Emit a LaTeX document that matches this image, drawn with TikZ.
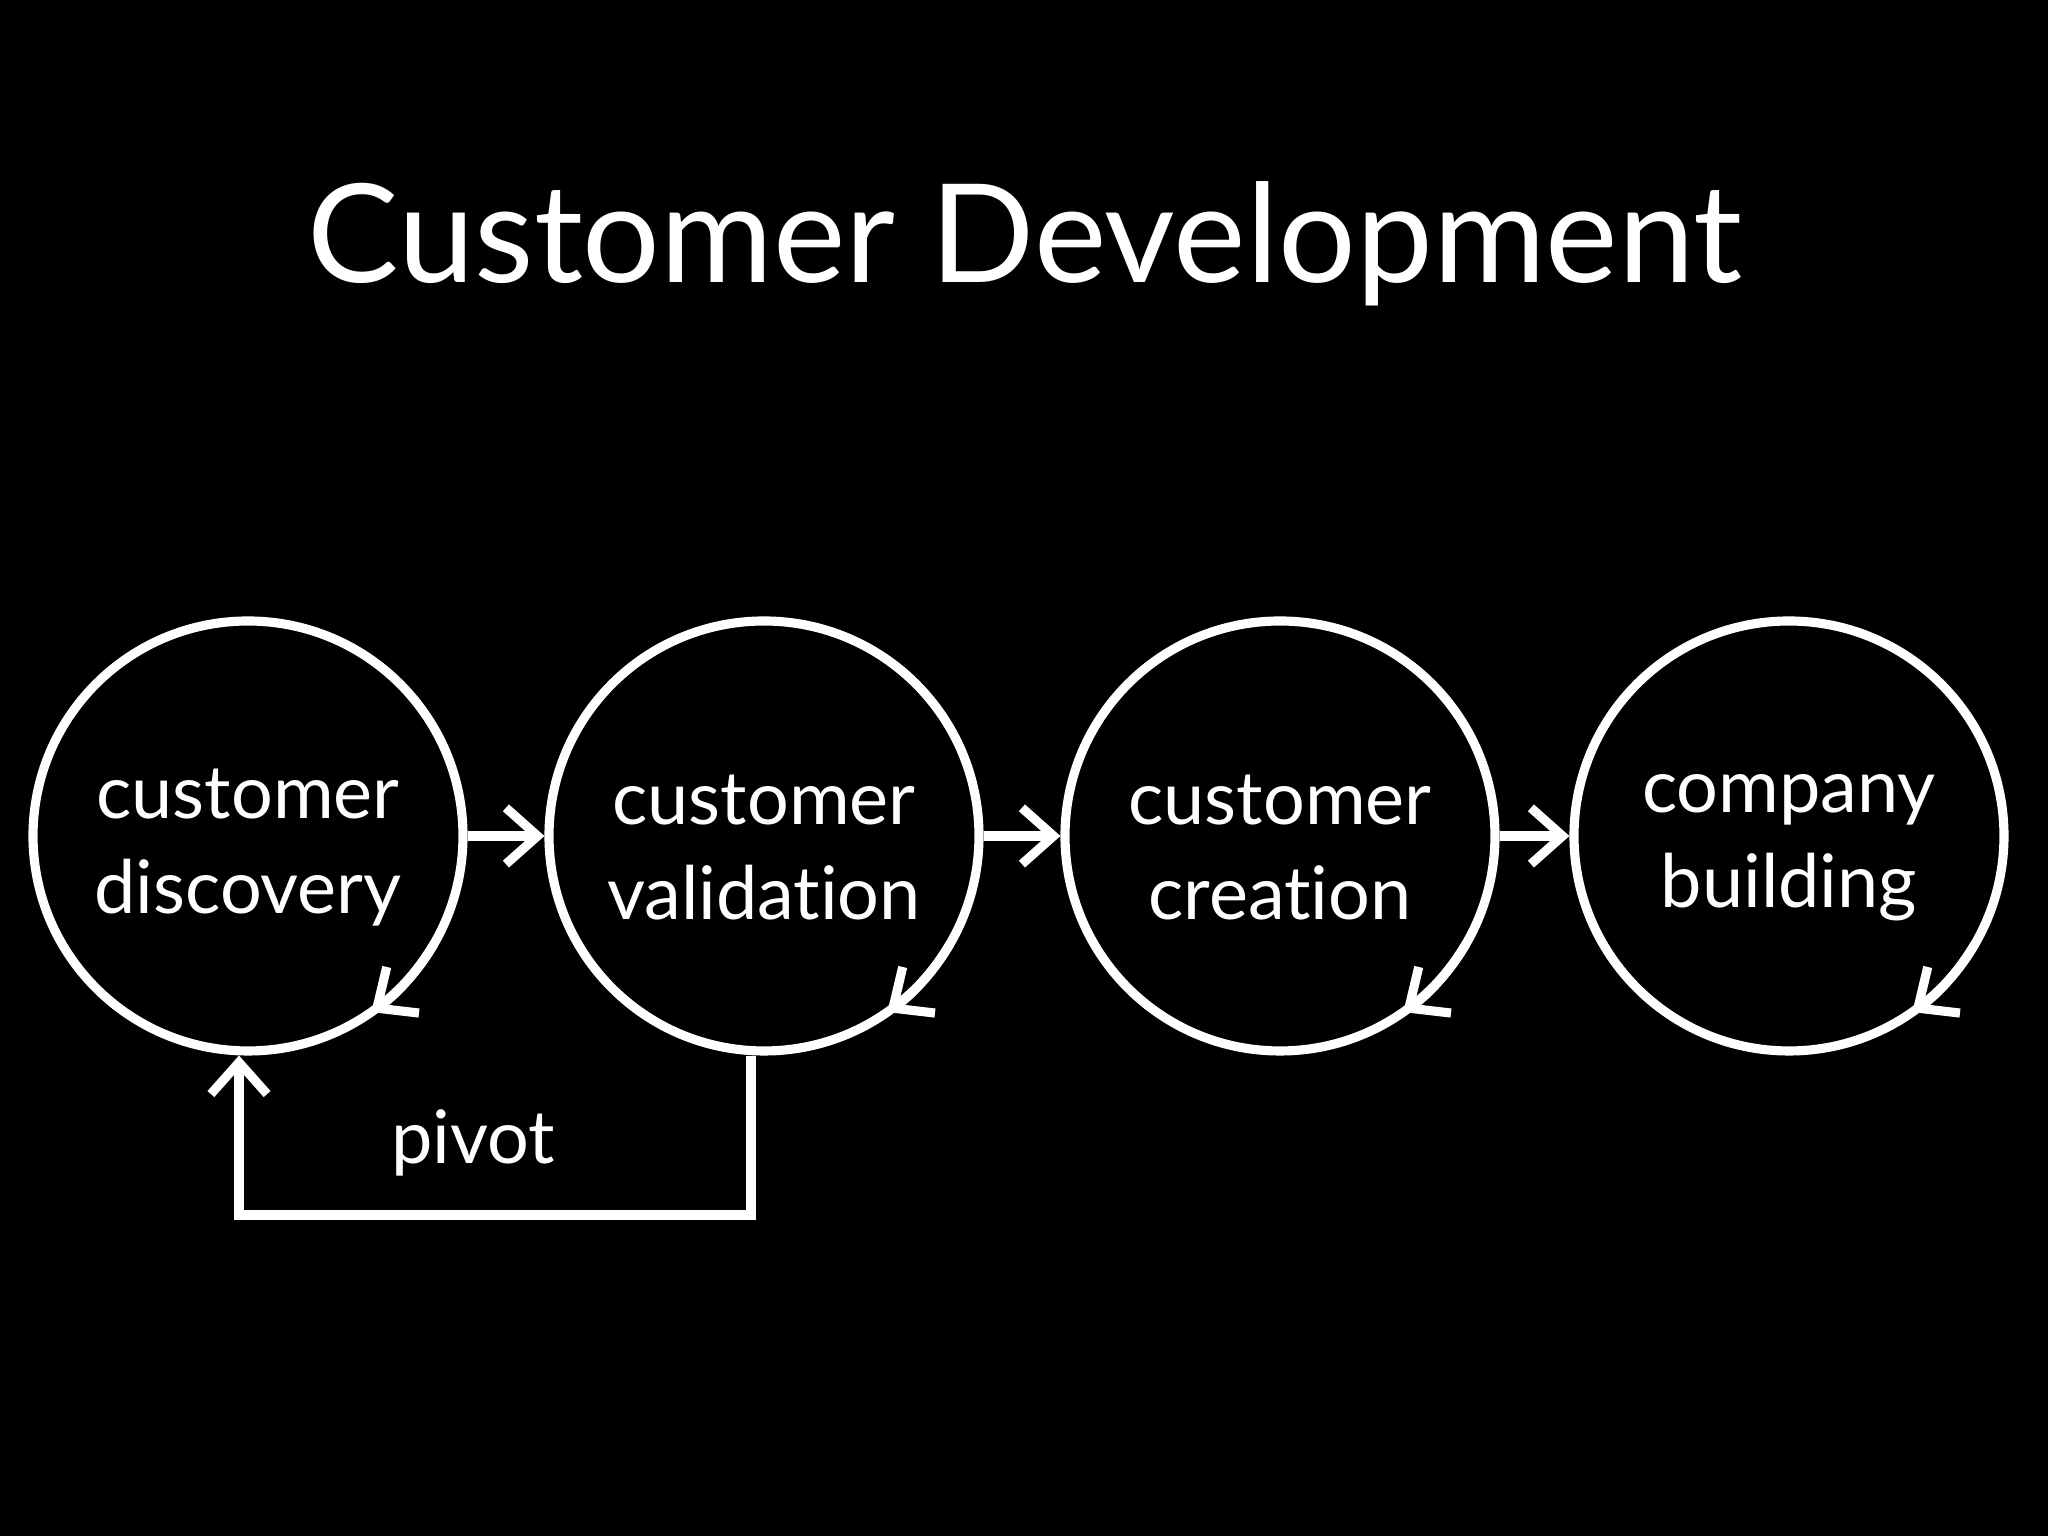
\documentclass[tikz,border=0pt]{standalone}
\usepackage{fontspec}
\setmainfont[Ligatures=NoCommon]{Lato}
\usetikzlibrary{arrows.meta}
\begin{document}
\begin{tikzpicture}[
  chalk/.style={draw=white, line width=2.6pt},
  arr/.style={chalk,-{Straight Barb[length=9pt,width=16pt]}},
  lbl/.style={text=white, font=\fontsize{21}{27}\selectfont, align=center}]
\fill[black] (0,0) rectangle (20.48,15.36);
\useasboundingbox (0,0) rectangle (20.48,15.36);
\node[text=white, font=\fontsize{39}{47}\selectfont] (title) at (10.25,12.92) {Customer Development};
\foreach \n/\x/\t in {c1/2.48/{customer\\discovery}, c2/7.64/{customer\\validation}, c3/12.80/{customer\\creation}, c4/17.89/{company\\building}}{
  \node[chalk, circle, minimum size=4.3cm, inner sep=0pt] (\n) at (\x,7.0) {};
  \node[lbl] (\n t) at (\x,6.88) {\t};
  \draw[arr] ([shift={(-30:2.15)}]\n.center) arc[start angle=-30, end angle=-55, radius=2.15];
}
\draw[arr] (c1.east) -- (c2.west);
\draw[arr] (c2.east) -- (c3.west);
\draw[arr] (c3.east) -- (c4.west);
\coordinate (p1) at (7.51,3.21);
\coordinate (p2) at (2.39,3.21);
\draw[arr] (c2.south -| p1) -- (p1) -- (p2) -- (c1.south -| p2);
\node[lbl] (pivot) at (4.73,3.93) {pivot};
\end{tikzpicture}
\end{document}
